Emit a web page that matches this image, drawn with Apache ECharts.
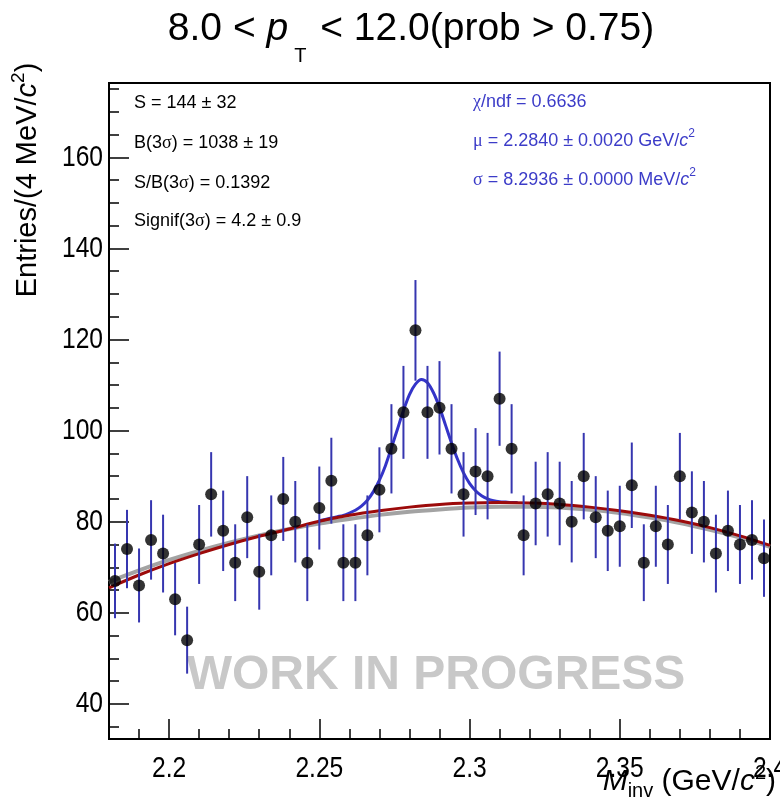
<!DOCTYPE html>
<html lang="en">
<head>
<meta charset="utf-8"/>
<title>Minv fit</title>
<script src="https://cdn.jsdelivr.net/npm/echarts@6/dist/echarts.min.js"></script>
<style>
  html, body { margin: 0; padding: 0; background: #fff; }
  #main { width: 780px; height: 798px; }
</style>
</head>
<body>
<div id="main"></div>
<script>
// histogram: 4 MeV bins from 2.18 to 2.40
const binLow = 2.18;
const binWidth = 0.004;
const counts = [67, 74, 66, 76, 73, 63, 54, 75, 86, 78, 71, 81, 69, 77,
                85, 80, 71, 83, 89, 71, 71, 77, 87, 96, 104, 122, 104, 105,
                96, 86, 91, 90, 107, 96, 77, 84, 86, 84, 80, 90, 81, 78,
                79, 88, 71, 79, 75, 90, 82, 80, 73, 78, 75, 76, 72];
const errors = [8.19, 8.60, 8.12, 8.72, 8.54, 7.94, 7.35, 8.66, 9.27, 8.83, 8.43, 9.00, 8.31, 8.77,
                9.22, 8.94, 8.43, 9.11, 9.43, 8.43, 8.43, 8.77, 9.33, 9.80, 10.20, 11.05, 10.20, 10.25,
                9.80, 9.27, 9.54, 9.49, 10.34, 9.80, 8.77, 9.17, 9.27, 9.17, 8.94, 9.49, 9.00, 8.83,
                8.89, 9.38, 8.43, 8.89, 8.66, 9.49, 9.06, 8.94, 8.54, 8.83, 8.66, 8.72, 8.49];

// background curves (read every 10 MeV)
const bkgX = [2.18, 2.19, 2.20, 2.21, 2.22, 2.23, 2.24, 2.25, 2.26, 2.27, 2.28, 2.29,
              2.30, 2.31, 2.32, 2.33, 2.34, 2.35, 2.36, 2.37, 2.38, 2.39, 2.40];
const bkgRed = [65.5, 68.3, 70.8, 73.0, 75.0, 76.8, 78.4, 80.1, 81.4, 82.4, 83.2, 83.8,
                84.1, 84.2, 84.1, 83.8, 83.2, 82.4, 81.4, 80.2, 78.7, 76.9, 74.8];
const bkgGray = [66.8, 69.3, 71.6, 73.6, 75.4, 77.0, 78.4, 79.6, 80.6, 81.5, 82.2, 82.7,
                 83.1, 83.3, 83.3, 83.1, 82.6, 81.9, 80.9, 79.7, 78.2, 76.5, 74.5];

// signal + background curve around the peak
const sigX = [2.250, 2.252, 2.254, 2.256, 2.258, 2.260, 2.262, 2.264, 2.266, 2.268, 2.270, 2.272,
              2.274, 2.276, 2.278, 2.280, 2.282, 2.284, 2.286, 2.288, 2.290, 2.292, 2.294, 2.296,
              2.298, 2.300, 2.302, 2.304, 2.306, 2.308, 2.310, 2.312, 2.314, 2.316];
const sigBlue = [80.2, 80.5, 80.8, 81.1, 81.4, 81.9, 82.5, 83.4, 84.7, 86.6, 89.1, 92.3,
                 96.2, 100.3, 104.4, 107.9, 110.2, 111.2, 110.5, 108.3, 105.1, 101.2, 97.3, 93.7,
                 90.7, 88.4, 86.8, 85.7, 85.0, 84.6, 84.4, 84.3, 84.2, 84.2];

// axis ticks
const xMajor = [2.2, 2.25, 2.3, 2.35, 2.4];
const xMinor = [2.19, 2.21, 2.22, 2.23, 2.24, 2.26, 2.27, 2.28, 2.29, 2.31, 2.32, 2.33, 2.34,
                2.36, 2.37, 2.38, 2.39];
const yMajor = [40, 60, 80, 100, 120, 140, 160];
const yMinor = [35, 45, 50, 55, 65, 70, 75, 85, 90, 95, 105, 110, 115, 125, 130, 135,
                145, 150, 155, 165, 170, 175];
const xRange = [2.18, 2.4];
const yRange = [32.3, 176.3];

const histData = counts.map(function (c, i) {
    return [binLow + binWidth * (i + 0.5), c, errors[i]];
});
const pairs = function (xs, ys) { return xs.map(function (x, i) { return [x, ys[i]]; }); };

const SANS = 'Liberation Sans';
const BLUE_TXT = '#3c3cc8';

function richSet(size, color) {
    return {
        t: { fontSize: size, fontFamily: SANS, fill: color, lineHeight: size + 8 },
        g: { fontSize: size, fontFamily: 'Liberation Serif', fill: color, lineHeight: size + 8 },
        ci: { fontSize: size, fontFamily: SANS, fontStyle: 'italic', fill: color, lineHeight: size + 8 },
        sup: { fontSize: Math.round(size * 0.65), fontFamily: SANS, fill: color,
               verticalAlign: 'top', lineHeight: Math.round(size * 0.7) },
        sub: { fontSize: Math.round(size * 0.65), fontFamily: SANS, fill: color,
               verticalAlign: 'bottom', lineHeight: Math.round(size * 0.65) }
    };
}

function label(x, y, text, size, color, extra) {
    const el = {
        type: 'text', x: x, y: y, z: 10,
        style: {
            text: text, rich: richSet(size, color), fill: color,
            fontSize: size, fontFamily: SANS,
            align: 'left', verticalAlign: 'middle'
        }
    };
    return Object.assign(el, extra || {});
}

function axisCfg(range, pos, ticks, len) {
    return {
        type: 'value', min: range[0], max: range[1], position: pos,
        axisLine: { show: len > 10, onZero: false, lineStyle: { color: '#000', width: 2 } },
        axisTick: { show: true, inside: true, length: len, customValues: ticks,
                    lineStyle: { color: '#000', width: 1.5 } },
        axisLabel: { show: false },
        splitLine: { show: false }
    };
}

const chart = echarts.init(document.getElementById('main'), null, { renderer: 'canvas' });

chart.setOption({
    backgroundColor: '#fff',
    animation: false,
    grid: {
        left: 109, right: 10, top: 83, bottom: 59, outerBoundsMode: 'none',
        show: true, borderColor: '#000', borderWidth: 2, backgroundColor: 'transparent'
    },
    xAxis: [axisCfg(xRange, 'bottom', xMajor, 20), axisCfg(xRange, 'bottom', xMinor, 10)],
    yAxis: [axisCfg(yRange, 'left', yMajor, 20), axisCfg(yRange, 'left', yMinor, 10)],
    series: [{
        name: 'bkg (gray)', type: 'line', data: pairs(bkgX, bkgGray),
        smooth: 0.3, showSymbol: false, z: 2,
        lineStyle: { color: '#a3a3a3', width: 4 }
    }, {
        name: 'signal + bkg', type: 'line', data: pairs(sigX, sigBlue),
        smooth: 0.3, showSymbol: false, z: 3,
        lineStyle: { color: '#3434c8', width: 3 }
    }, {
        name: 'bkg', type: 'line', data: pairs(bkgX, bkgRed),
        smooth: 0.3, showSymbol: false, z: 4,
        lineStyle: { color: '#9c0a0a', width: 3 }
    }, {
        name: 'errors', type: 'custom', data: histData, z: 5,
        renderItem: function (params, api) {
            const x = api.value(0), y = api.value(1), e = api.value(2);
            const top = api.coord([x, y + e]);
            const bot = api.coord([x, y - e]);
            return {
                type: 'line',
                shape: { x1: top[0], y1: top[1], x2: bot[0], y2: bot[1] },
                style: { stroke: '#3636b0', lineWidth: 2 }
            };
        }
    }, {
        name: 'data', type: 'scatter', data: histData, z: 6,
        symbol: 'circle', symbolSize: 12,
        itemStyle: { color: '#000' }
    }]
});

// tick labels: narrow Helvetica look, placed from the axis scales
const xBase = chart.convertToPixel({ yAxisIndex: 0 }, yRange[0]);
const yBase = chart.convertToPixel({ xAxisIndex: 0 }, xRange[0]);
const tickLabels = [];
xMajor.forEach(function (v) {
    tickLabels.push({
        type: 'text', x: chart.convertToPixel({ xAxisIndex: 0 }, v), y: xBase + 15,
        scaleX: 0.82, z: 10,
        style: { text: String(v), fill: '#000', fontSize: 30, fontFamily: SANS,
                 align: 'center', verticalAlign: 'top' }
    });
});
yMajor.forEach(function (v) {
    tickLabels.push({
        type: 'text', x: yBase - 6, y: chart.convertToPixel({ yAxisIndex: 0 }, v),
        scaleX: 0.82, z: 10,
        style: { text: String(v), fill: '#000', fontSize: 30, fontFamily: SANS,
                 align: 'right', verticalAlign: 'middle' }
    });
});

chart.setOption({
    graphic: tickLabels.concat([
        {
            type: 'text', x: 411, y: 29, z: 10,
            style: {
                text: '{t|8.0 < }{ti|p}{ts|T}{t| < 12.0(prob > 0.75)}',
                align: 'center', verticalAlign: 'middle',
                rich: {
                    t: { fontSize: 39, fontFamily: SANS, fill: '#000', lineHeight: 75 },
                    ti: { fontSize: 39, fontFamily: SANS, fontStyle: 'italic', fill: '#000', lineHeight: 75 },
                    ts: { fontSize: 20, fontFamily: SANS, fill: '#000', verticalAlign: 'bottom',
                          lineHeight: 20, padding: [0, 3, 0, 6] }
                }
            }
        },
        // stat box, left column
        label(134, 103, '{t|S = 144 ± 32}', 18, '#000'),
        label(134, 143, '{t|B(3}{g|σ}{t|) = 1038 ± 19}', 18, '#000'),
        label(134, 183, '{t|S/B(3}{g|σ}{t|) = 0.1392}', 18, '#000'),
        label(134, 221, '{t|Signif(3}{g|σ}{t|) = 4.2 ± 0.9}', 18, '#000'),
        // fit results, right column
        label(473, 102, '{g|χ}{t|/ndf = 0.6636}', 18, BLUE_TXT),
        label(473, 141, '{g|μ}{t| = 2.2840 ± 0.0020 GeV/}{ci|c}{sup|2}', 18, BLUE_TXT),
        label(473, 180, '{g|σ}{t| = 8.2936 ± 0.0000 MeV/}{ci|c}{sup|2}', 18, BLUE_TXT),
        // watermark
        {
            type: 'text', x: 436, y: 676, z: 1,
            style: { text: 'WORK IN PROGRESS', fill: '#c8c8c8', fontSize: 48,
                     fontWeight: 'bold', fontFamily: SANS, align: 'center', verticalAlign: 'middle' }
        },
        // axis titles
        label(28, 180, '', 29, '#000', {
            rotation: Math.PI / 2,
            style: {
                text: '{t|Entries/(4 MeV/}{ci|c}{sup|2}{t|)}',
                align: 'center', verticalAlign: 'middle', rich: richSet(29, '#000')
            }
        }),
        label(776, 782, '', 30, '#000', {
            style: {
                text: '{ci|M}{sub|inv}{t| (GeV/}{ci|c}{sup|2}{t|)}',
                align: 'right', verticalAlign: 'middle', rich: richSet(30, '#000')
            }
        })
    ])
});
</script>
</body>
</html>
